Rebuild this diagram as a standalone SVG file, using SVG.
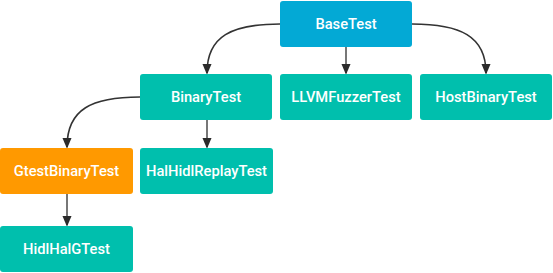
<svg xmlns="http://www.w3.org/2000/svg" width="553" height="273" viewBox="0 0 553 273">
<defs>
<style>
.n rect{stroke:none}
.teal{fill:#00BFAD}
.blue{fill:#03A9D5}
.orange{fill:#FF9900}
.n text{font-family:Roboto,"Liberation Sans",sans-serif;font-weight:500;font-size:14.7px;fill:#fff;text-anchor:middle;dominant-baseline:central}
.c path{fill:none;stroke-width:1.6}
.cv{stroke:#333}
.st{stroke:#555}
</style>
<marker id="ah" markerWidth="11" markerHeight="13" refX="11" refY="5.5" orient="auto" markerUnits="userSpaceOnUse" viewBox="0 0 13 11">
<path d="M0,0 L13,5.5 L0,11 Z" fill="#2b2b2b"/>
</marker>
</defs>
<g id="connectors" class="c">
<path class="cv" d="M280,24 C232,24 207,36 207,73" marker-end="url(#ah)"/>
<path class="st" d="M346,47 L346,73" marker-end="url(#ah)"/>
<path class="cv" d="M412,24 C460,24 486,36 486,73" marker-end="url(#ah)"/>
<path class="cv" d="M140,97 C92,97 67,109 67,147" marker-end="url(#ah)"/>
<path class="st" d="M207,120 L207,147" marker-end="url(#ah)"/>
<path class="st" d="M67,194 L67,225" marker-end="url(#ah)"/>
</g>
<g id="BaseTest" class="n"><rect class="blue" x="280" y="1" width="132" height="46" rx="3"/><text x="346" y="24">BaseTest</text></g>
<g id="BinaryTest" class="n"><rect class="teal" x="140" y="74" width="132" height="46" rx="3"/><text x="206" y="97">BinaryTest</text></g>
<g id="LLVMFuzzerTest" class="n"><rect class="teal" x="280" y="74" width="132" height="46" rx="3"/><text x="346" y="97">LLVMFuzzerTest</text></g>
<g id="HostBinaryTest" class="n"><rect class="teal" x="420" y="74" width="132" height="46" rx="3"/><text x="486" y="97">HostBinaryTest</text></g>
<g id="GtestBinaryTest" class="n"><rect class="orange" x="0" y="148" width="133" height="46" rx="3"/><text x="66.5" y="171">GtestBinaryTest</text></g>
<g id="HalHidlReplayTest" class="n"><rect class="teal" x="140" y="148" width="133" height="46" rx="3"/><text x="206.5" y="171">HalHidlReplayTest</text></g>
<g id="HidlHalGTest" class="n"><rect class="teal" x="0" y="226" width="133" height="46" rx="3"/><text x="66.5" y="249">HidlHalGTest</text></g>
</svg>
